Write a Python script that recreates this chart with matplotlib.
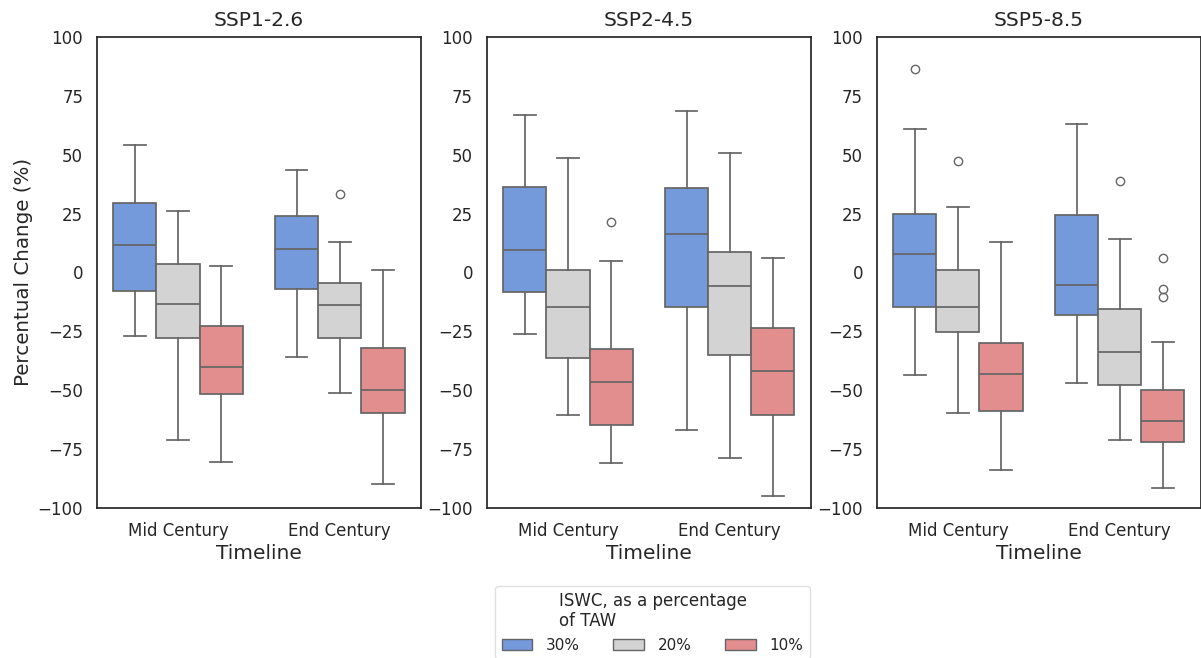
import matplotlib.pyplot as plt
from matplotlib.patches import Patch

scenarios = ["SSP1-2.6", "SSP2-4.5", "SSP5-8.5"]
timelines = ["Mid Century", "End Century"]
iswc_levels = ["30%", "20%", "10%"]
box_colors = ["#759ADC", "#D3D3D3", "#E28E8E"]

# per scenario: Mid(30,20,10), End(30,20,10)
whis_hi = [
    [54.0, 26.2, 2.8, 43.5, 12.8, 1.0],
    [66.9, 48.7, 4.9, 68.5, 50.8, 6.3],
    [61.0, 27.9, 13.1, 63.1, 14.0, -29.4],
]
q3_vals = [
    [29.5, 3.7, -22.9, 23.9, -4.3, -32.0],
    [36.4, 1.0, -32.4, 36.0, 8.6, -23.6],
    [24.8, 1.0, -29.8, 24.4, -15.4, -49.9],
]
medians = [
    [11.5, -13.3, -40.2, 9.8, -13.7, -50.0],
    [9.6, -14.5, -46.7, 16.2, -5.8, -42.0],
    [8.0, -14.8, -43.2, -5.4, -33.8, -63.1],
]
q1_vals = [
    [-8.1, -27.9, -51.7, -7.0, -27.9, -59.6],
    [-8.4, -36.5, -64.8, -14.5, -34.9, -60.5],
    [-14.5, -25.3, -58.7, -18.0, -47.7, -72.2],
]
whis_lo = [
    [-27.1, -71.3, -80.5, -36.1, -51.4, -90.0],
    [-26.3, -60.5, -80.9, -66.9, -78.6, -95.1],
    [-43.7, -59.6, -83.9, -47.0, -71.3, -91.6],
]
outliers = [
    [[], [], [], [], [33.2], []],
    [[], [], [21.4], [], [], []],
    [[86.5], [47.5], [], [], [38.8], [6.3, -7.1, -10.4]],
]

plt.rcParams['font.family'] = 'DejaVu Sans'
text_color = "#262626"
line_color = "#656565"
box_w = 0.8 / 3

fig = plt.figure(figsize=(12.01, 6.58), dpi=100)
lefts = [0.0808, 0.4055, 0.7302]
axes = []
for k, scen in enumerate(scenarios):
    ax = fig.add_axes([lefts[k], 0.228, 0.2695, 0.716])
    axes.append(ax)
    stats = []
    positions = []
    for t in range(len(timelines)):
        for h in range(len(iswc_levels)):
            i = t * 3 + h
            stats.append({
                "med": medians[k][i], "q1": q1_vals[k][i], "q3": q3_vals[k][i],
                "whislo": whis_lo[k][i], "whishi": whis_hi[k][i],
                "fliers": outliers[k][i],
            })
            positions.append(t + (h - 1) * box_w)
    bp = ax.bxp(stats, positions=positions, widths=box_w, patch_artist=True,
                boxprops=dict(edgecolor=line_color, linewidth=1.25),
                medianprops=dict(color=line_color, linewidth=1.25),
                whiskerprops=dict(color=line_color, linewidth=1.25),
                capprops=dict(color=line_color, linewidth=1.25),
                capwidths=box_w / 2,
                flierprops=dict(marker="o", markersize=6, markerfacecolor="none",
                                markeredgecolor=line_color, markeredgewidth=1.0))
    for j, patch in enumerate(bp["boxes"]):
        patch.set_facecolor(box_colors[j % 3])
    ax.set_xlim(-0.5, 1.5)
    ax.set_ylim(-100, 100)
    ax.set_xticks(range(len(timelines)))
    ax.set_xticklabels(timelines)
    ax.set_yticks([-100, -75, -50, -25, 0, 25, 50, 75, 100])
    ax.tick_params(length=0, labelsize=12, labelcolor=text_color, pad=10)
    for s in ax.spines.values():
        s.set_color(text_color)
        s.set_linewidth(1.25)
    ax.set_title(scen, fontsize=14.5, color=text_color, pad=8)
    ax.set_xlabel("Timeline", fontsize=14.5, color=text_color, labelpad=3)

axes[0].set_ylabel("Percentual Change (%)", fontsize=14.3, color=text_color, labelpad=3)

handles = [Patch(facecolor=c, edgecolor=line_color, linewidth=1.0) for c in box_colors]
leg = fig.legend(handles, iswc_levels, loc="upper center", bbox_to_anchor=(0.5433, 0.1217),
                 ncol=3, fontsize=11, title="ISWC, as a percentage\nof TAW",
                 title_fontsize=12, frameon=True, columnspacing=2.2, handletextpad=0.9)
leg.get_frame().set_edgecolor("#d9d9d9")
for txt in leg.get_texts():
    txt.set_color(text_color)
leg.get_title().set_color(text_color)

fig.savefig("out.png", dpi=100)
